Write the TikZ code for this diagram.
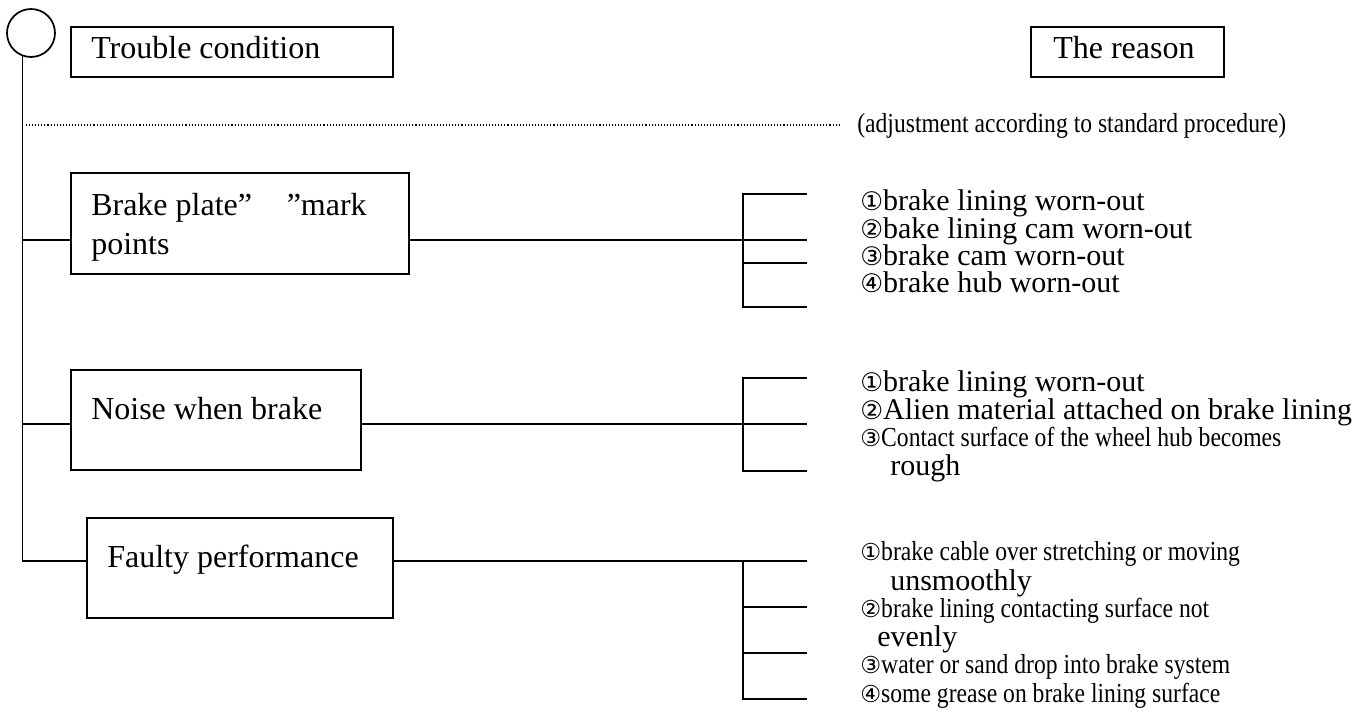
\documentclass[tikz,border=0pt]{standalone}
\usepackage{fontspec}
\setmainfont{Liberation Serif}
\newfontfamily\condfont[FakeStretch=0.86]{Liberation Serif}
\newfontfamily\circfont[Scale=0.85]{DejaVu Sans}
\newcommand\circnum[1]{{\circfont #1}}
\begin{document}
\begin{tikzpicture}[x=0.75pt,y=-0.75pt,
  ln/.style={line width=1.3pt},
  box/.style={draw,line width=1.3pt,inner sep=0pt},
  bt/.style={anchor=base west,inner sep=0pt,font=\fontsize{24}{28}\selectfont},
  rt/.style={anchor=base west,inner sep=0pt,font=\fontsize{22.5}{26}\selectfont},
  ct/.style={anchor=base west,inner sep=0pt,font=\condfont\fontsize{20.6}{24}\selectfont}]
\useasboundingbox (0,0) rectangle (1357,720);
% root circle
\node[draw,circle,line width=1.3pt,minimum size=36pt,inner sep=0pt] (circ) at (31,33) {};
% boxes
\node[box,minimum width=241.5pt,minimum height=37.5pt] (trouble) at (232,52) {};
\node[box,minimum width=144.75pt,minimum height=37.5pt] (reason) at (1127.5,52) {};
\node[box,minimum width=253.5pt,minimum height=75.75pt] (b1) at (240,223.5) {};
\node[box,minimum width=217.5pt,minimum height=75pt] (b2) at (216,420) {};
\node[box,minimum width=229.5pt,minimum height=75pt] (b3) at (240,568) {};
% box texts
\node[bt] (ttrouble) at (91,59) {Trouble condition};
\node[bt] (treason) at (1053,59) {The reason};
\node[bt] (tb1a) at (91,216) {Brake plate”\hspace{26pt}”mark};
\node[bt] (tb1b) at (91,255) {points};
\node[bt] (tb2) at (91,419) {Noise when brake};
\node[bt] (tb3) at (107,567) {Faulty performance};
% coordinates
\coordinate (y1) at (0,240);
\coordinate (y2) at (0,424);
\coordinate (y3) at (0,561);
\coordinate (s1) at (743,0);
\coordinate (d0) at (26,125);
\coordinate (d1) at (840,125);
\coordinate (e1a) at (807,194);
\coordinate (e1b) at (807,240);
\coordinate (e1c) at (807,263);
\coordinate (e1d) at (807,307);
\coordinate (e2a) at (807,378);
\coordinate (e2b) at (807,424);
\coordinate (e2c) at (807,471);
\coordinate (e3a) at (807,561);
\coordinate (e3b) at (807,607);
\coordinate (e3c) at (807,653);
\coordinate (e3d) at (807,699);
% trunk
\draw[ln] (circ.250) |- (b3.west |- y3);
\draw[ln] (circ.250 |- y1) -- (b1.west |- y1);
\draw[ln] (circ.250 |- y2) -- (b2.west |- y2);
% dotted guide
\draw[line width=0.8pt,dash pattern=on 0.8pt off 1.5pt] (d0) -- (d1);
% bracket 1
\draw[ln] (b1.east |- e1b) -- (e1b);
\draw[ln] (e1a) -| (s1 |- e1d) -- (e1d);
\draw[ln] (s1 |- e1c) -- (e1c);
% bracket 2
\draw[ln] (b2.east |- e2b) -- (e2b);
\draw[ln] (e2a) -| (s1 |- e2c) -- (e2c);
% bracket 3
\draw[ln] (b3.east |- e3a) -- (e3a);
\draw[ln] (s1 |- e3a) |- (e3d);
\draw[ln] (s1 |- e3b) -- (e3b);
\draw[ln] (s1 |- e3c) -- (e3c);
% reasons
\node[ct] (adj) at (857,133) {(adjustment according to standard procedure)};
\node[rt] (r1a) at (860,211) {\circnum{①}brake lining worn-out};
\node[rt] (r1b) at (860,239) {\circnum{②}bake lining cam worn-out};
\node[rt] (r1c) at (860,266) {\circnum{③}brake cam worn-out};
\node[rt] (r1d) at (860,293) {\circnum{④}brake hub worn-out};
\node[rt] (r2a) at (860,392) {\circnum{①}brake lining worn-out};
\node[rt] (r2b) at (860,419) {\circnum{②}Alien material attached on brake lining};
\node[ct] (r2c) at (860,446.5) {\circnum{③}Contact surface of the wheel hub becomes};
\node[rt] (r2d) at (890,475) {rough};
\node[ct] (r3a) at (860,560) {\circnum{①}brake cable over stretching or moving};
\node[rt] (r3b) at (890,590) {unsmoothly};
\node[ct] (r3c) at (860,617) {\circnum{②}brake lining contacting surface not};
\node[rt] (r3d) at (877,646) {evenly};
\node[ct] (r3e) at (860,673) {\circnum{③}water or sand drop into brake system};
\node[ct] (r3f) at (860,702) {\circnum{④}some grease on brake lining surface};
\end{tikzpicture}
\end{document}
